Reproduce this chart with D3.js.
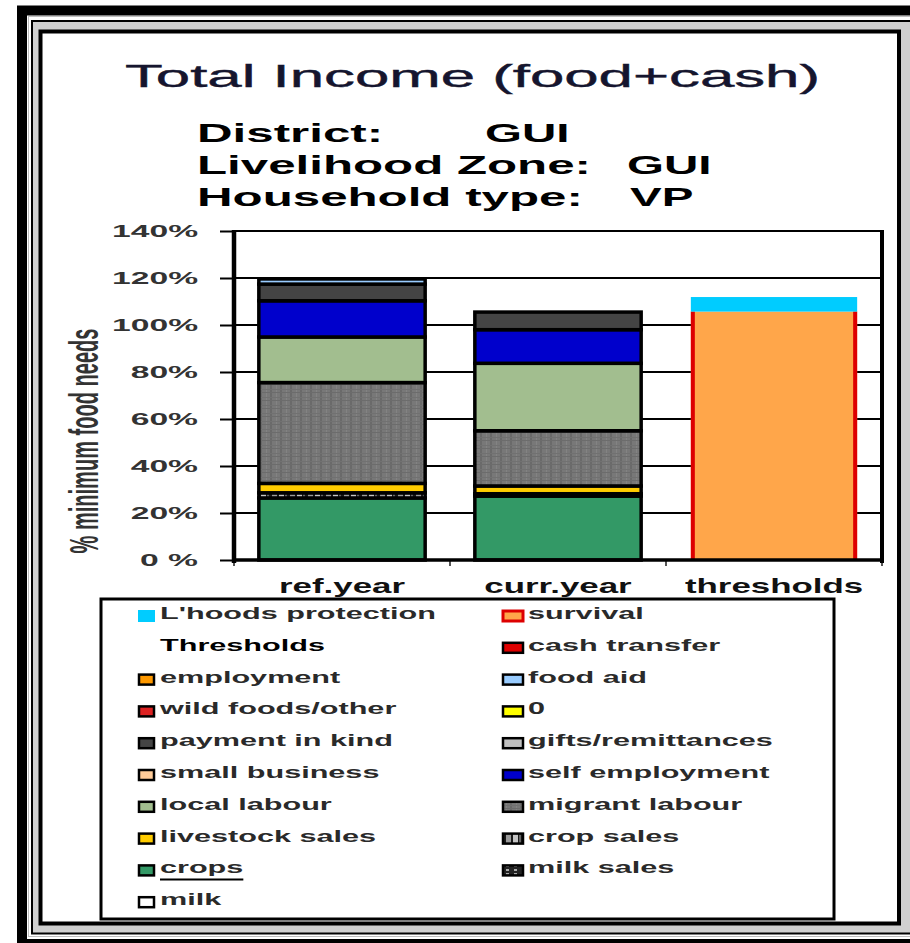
<!DOCTYPE html>
<html>
<head>
<meta charset="utf-8">
<script src="https://cdn.jsdelivr.net/npm/d3@7"></script>
<style>
  body { margin: 0; background: #fff; }
  text { font-family: "Liberation Sans", Arial, sans-serif; }
</style>
</head>
<body>
<div id="chart"></div>
<script>
// Categorías del eje X
const categories = ["ref.year", "curr.year", "thresholds"];

// Series (% de necesidades mínimas de alimento), de abajo hacia arriba
const milk            = [0, 0, 0];
const milkSales       = [0, 0, 0];
const crops           = [26.4, 27.2, 0];
const cropSales       = [2.2, 1.0, 0];
const livestockSales  = [4.0, 3.3, 0];
const migrantLabour   = [42.9, 23.5, 0];
const localLabour     = [19.4, 28.7, 0];
const selfEmployment  = [15.4, 14.3, 0];
const smallBusiness   = [0, 0, 0];
const gifts           = [0, 0, 0];
const paymentInKind   = [7.1, 7.5, 0];
const zeroSeries      = [0, 0, 0];
const wildFoods       = [0, 0, 0];
const foodAid         = [2.2, 0, 0];
const employment      = [0, 0, 0];
const cashTransfer    = [0, 0, 0];
const thresholds      = [0, 0, 0];
const survival        = [0, 0, 105.7];
const lhoodsProtect   = [0, 0, 6.2];

const seriesNames = ["milk", "milk sales", "crops", "crop sales", "livestock sales",
  "migrant labour", "local labour", "self employment", "small business",
  "gifts/remittances", "payment in kind", "0", "wild foods/other", "food aid",
  "employment", "cash transfer", "Thresholds", "survival", "L'hoods protection"];
const seriesValues = [milk, milkSales, crops, cropSales, livestockSales,
  migrantLabour, localLabour, selfEmployment, smallBusiness, gifts,
  paymentInKind, zeroSeries, wildFoods, foodAid, employment, cashTransfer,
  thresholds, survival, lhoodsProtect];

// Etiquetas del eje Y
const yTicks = [0, 20, 40, 60, 80, 100, 120, 140];
const yTickLabels = ["0 %", "20%", "40%", "60%", "80%", "100%", "120%", "140%"];

// Textos de cabecera
const titleText = "Total Income (food+cash)";
const infoLabels = ["District:", "Livelihood Zone:", "Household type:"];
const infoValues = ["GUI", "GUI", "VP"];

// Colores por serie
const colors = {
  "milk": "#ffffff",
  "milk sales": "url(#pMilkSales)",
  "crops": "#339966",
  "crop sales": "url(#pCropSales)",
  "livestock sales": "#ffcc00",
  "migrant labour": "url(#pMigrant)",
  "local labour": "#a2be8f",
  "self employment": "#0000cc",
  "small business": "#ffcc99",
  "gifts/remittances": "#c0c0c0",
  "payment in kind": "#444444",
  "0": "#ffff00",
  "wild foods/other": "#dd2222",
  "food aid": "#99ccff",
  "employment": "#ff9900",
  "cash transfer": "#dd0000",
  "Thresholds": "none",
  "survival": "#ffa64a",
  "L'hoods protection": "#00ccff"
};

const W = 910, H = 943;
const plot = { left: 234, right: 882, top: 231, bottom: 560 };

// estira el texto horizontalmente (fuente original muy ancha)
function stretch(sel, k) {
  sel.each(function () {
    const w = this.getComputedTextLength();
    d3.select(this).attr("textLength", w * k).attr("lengthAdjust", "spacingAndGlyphs");
  });
}

const svg = d3.select("#chart").append("svg")
  .attr("width", W).attr("height", H);

// Patrones
const defs = svg.append("defs");
const pm = defs.append("pattern").attr("id", "pMigrant")
  .attr("patternUnits", "userSpaceOnUse").attr("width", 10).attr("height", 8);
pm.append("rect").attr("width", 10).attr("height", 8).attr("fill", "#787878");
pm.append("rect").attr("x", 0).attr("width", 2).attr("height", 8).attr("fill", "#6a6a6a");
pm.append("rect").attr("x", 6).attr("width", 1).attr("height", 8).attr("fill", "#838383");
pm.append("rect").attr("y", 0).attr("width", 10).attr("height", 1).attr("fill", "#6c6c6c");
pm.append("rect").attr("y", 5).attr("width", 10).attr("height", 1).attr("fill", "#717171");

const pc = defs.append("pattern").attr("id", "pCropSales")
  .attr("patternUnits", "userSpaceOnUse").attr("width", 18).attr("height", 4);
pc.append("rect").attr("width", 18).attr("height", 4).attr("fill", "#1a1a1a");
pc.append("rect").attr("x", 2).attr("width", 5).attr("height", 4).attr("fill", "#9a9a9a");
pc.append("rect").attr("x", 9).attr("width", 5).attr("height", 4).attr("fill", "#c4c4c4");
pc.append("rect").attr("x", 15).attr("width", 2).attr("height", 4).attr("fill", "#666");

const pms = defs.append("pattern").attr("id", "pMilkSales")
  .attr("patternUnits", "userSpaceOnUse").attr("width", 8).attr("height", 4);
pms.append("rect").attr("width", 8).attr("height", 4).attr("fill", "#222");
pms.append("rect").attr("x", 2).attr("y", 1).attr("width", 3).attr("height", 2).attr("fill", "#aaa");

// Marco exterior
svg.append("rect").attr("width", W).attr("height", H).attr("fill", "#fff");
svg.append("rect").attr("x", 22).attr("y", 10.5).attr("width", 1000).attr("height", 933.5)
  .attr("fill", "none").attr("stroke", "#000").attr("stroke-width", 10);
svg.append("rect").attr("x", 28.5).attr("y", 16.5).attr("width", 1000).attr("height", 920)
  .attr("fill", "none").attr("stroke", "#bdbdbd").attr("stroke-width", 1);
svg.append("rect").attr("x", 32).attr("y", 21).attr("width", 1000).attr("height", 912.5)
  .attr("fill", "#cfcfcf").attr("stroke", "#000").attr("stroke-width", 2);
svg.append("rect").attr("x", 40.5).attr("y", 31.5).attr("width", 858.5).attr("height", 892)
  .attr("fill", "#fff").attr("stroke", "#000").attr("stroke-width", 4);

// Título
svg.append("text")
  .attr("x", 125).attr("y", 87)
  .attr("font-size", 32)
  .attr("fill", "#15152e")
  .attr("stroke", "#15152e").attr("stroke-width", 0.4)
  .attr("textLength", 695).attr("lengthAdjust", "spacingAndGlyphs")
  .text(titleText);

// Distrito / zona / tipo de hogar
const valueX = [485, 627, 630];
infoLabels.forEach((t, i) => {
  svg.append("text").attr("x", 197).attr("y", 142 + i * 32)
    .attr("font-size", 25).attr("font-weight", "bold").attr("fill", "#000")
    .text(t).call(stretch, 1.97);
  svg.append("text").attr("x", valueX[i]).attr("y", 142 + i * 32)
    .attr("font-size", 25).attr("font-weight", "bold").attr("fill", "#000")
    .text(infoValues[i]).call(stretch, 1.9);
});

// Escalas
const x = d3.scaleBand()
  .domain(categories)
  .range([plot.left, plot.right])
  .paddingInner(0.23)
  .paddingOuter(0.115);

const y = d3.scaleLinear()
  .domain([0, 140])
  .range([plot.bottom, plot.top]);

// Líneas de cuadrícula
svg.append("g").selectAll("line")
  .data(yTicks.filter(d => d > 0))
  .join("line")
  .attr("x1", plot.left).attr("x2", plot.right)
  .attr("y1", d => y(d)).attr("y2", d => y(d))
  .attr("stroke", "#000").attr("stroke-width", 2);

// Eje Y
const yAxis = svg.append("g")
  .attr("transform", `translate(${plot.left},0)`)
  .call(d3.axisLeft(y).tickValues(yTicks)
    .tickFormat((d, i) => yTickLabels[i])
    .tickSize(14).tickPadding(22));
yAxis.select(".domain").remove();
yAxis.selectAll(".tick line").attr("stroke", "#000").attr("stroke-width", 2);
yAxis.selectAll(".tick text")
  .attr("font-family", "Liberation Sans, Arial, sans-serif")
  .attr("font-size", 16).attr("font-weight", "bold").attr("fill", "#333")
  .call(stretch, 2.1);

// Eje X
const xAxis = svg.append("g")
  .attr("transform", `translate(0,${plot.bottom})`)
  .call(d3.axisBottom(x).tickSize(0).tickPadding(18));
xAxis.select(".domain").remove();
xAxis.selectAll(".tick text")
  .attr("font-family", "Liberation Sans, Arial, sans-serif")
  .attr("font-size", 21).attr("font-weight", "bold").attr("fill", "#111")
  .call(stretch, 1.66);

// marcas entre categorías
const bounds = d3.range(categories.length + 1).map(i => plot.left + i * x.step());
svg.append("g").selectAll("line")
  .data(bounds)
  .join("line")
  .attr("x1", d => d).attr("x2", d => d)
  .attr("y1", plot.bottom).attr("y2", plot.bottom + 6)
  .attr("stroke", "#555").attr("stroke-width", 2);

// Título del eje Y
svg.append("text")
  .attr("transform", "translate(98,441) rotate(-90)")
  .attr("text-anchor", "middle")
  .attr("font-size", 40).attr("font-weight", "bold")
  .attr("fill", "#333")
  .attr("textLength", 225).attr("lengthAdjust", "spacingAndGlyphs")
  .text("% minimum food needs");

// Datos apilados
const table = categories.map((c, i) => {
  const row = { category: c };
  seriesNames.forEach((n, j) => { row[n] = seriesValues[j][i]; });
  return row;
});
const stacked = d3.stack().keys(seriesNames)(table);

const barsG = svg.append("g");
stacked.forEach(layer => {
  const name = layer.key;
  const segs = layer.filter(d => d[1] - d[0] > 0);
  const isThreshold = name === "survival" || name === "L'hoods protection";
  barsG.selectAll(null)
    .data(segs)
    .join("rect")
    .attr("x", d => x(d.data.category))
    .attr("width", x.bandwidth())
    .attr("y", d => y(d[1]))
    .attr("height", d => y(d[0]) - y(d[1]))
    .attr("fill", colors[name])
    .attr("stroke", isThreshold ? "none" : "#000")
    .attr("stroke-width", 3.5);
  if (name === "survival") {
    segs.forEach(d => {
      [x(d.data.category) + 2, x(d.data.category) + x.bandwidth() - 2].forEach(px => {
        barsG.append("line")
          .attr("x1", px).attr("x2", px)
          .attr("y1", y(d[0])).attr("y2", y(d[1]))
          .attr("stroke", "#dd0000").attr("stroke-width", 4);
      });
    });
  }
});

// Bordes del área de trazado
svg.append("line").attr("x1", plot.left).attr("x2", plot.right + 2)
  .attr("y1", plot.bottom).attr("y2", plot.bottom)
  .attr("stroke", "#000").attr("stroke-width", 3.5);
svg.append("line").attr("x1", plot.left).attr("x2", plot.left)
  .attr("y1", plot.top - 1).attr("y2", plot.bottom + 3)
  .attr("stroke", "#000").attr("stroke-width", 4.5);
svg.append("line").attr("x1", plot.right).attr("x2", plot.right)
  .attr("y1", plot.top - 1).attr("y2", plot.bottom + 3)
  .attr("stroke", "#000").attr("stroke-width", 4);

// Leyenda
svg.append("rect").attr("x", 101).attr("y", 599).attr("width", 733).attr("height", 320)
  .attr("fill", "#fff").attr("stroke", "#000").attr("stroke-width", 3);

const legendItems = seriesNames.slice().reverse();
legendItems.forEach((name, i) => {
  const row = Math.floor(i / 2), col = i % 2;
  const bx = col ? 502 : 138;
  const mw = col ? 22 : 17;
  const tx = col ? 528 : 160;
  const base = 619 + row * 31.8;

  if (name === "L'hoods protection") {
    svg.append("rect").attr("x", bx).attr("y", base - 9).attr("width", mw).attr("height", 12)
      .attr("fill", colors[name]);
  } else if (name !== "Thresholds") {
    svg.append("rect").attr("x", bx + 1).attr("y", base - 8).attr("width", mw - 2).attr("height", 10)
      .attr("fill", colors[name])
      .attr("stroke", name === "survival" ? "#dd0000" : "#000")
      .attr("stroke-width", name === "survival" ? 3 : 2.5);
  }

  const t = svg.append("text")
    .attr("x", tx).attr("y", base)
    .attr("font-size", 17).attr("font-weight", "bold")
    .attr("fill", name === "Thresholds" ? "#000" : "#2a2a2a")
    .text(name)
    .call(stretch, 1.8);

  if (name === "crops") {
    const len = +t.attr("textLength");
    svg.append("line").attr("x1", tx).attr("x2", tx + len)
      .attr("y1", base + 6).attr("y2", base + 6)
      .attr("stroke", "#000").attr("stroke-width", 2);
  }
});
</script>
</body>
</html>
